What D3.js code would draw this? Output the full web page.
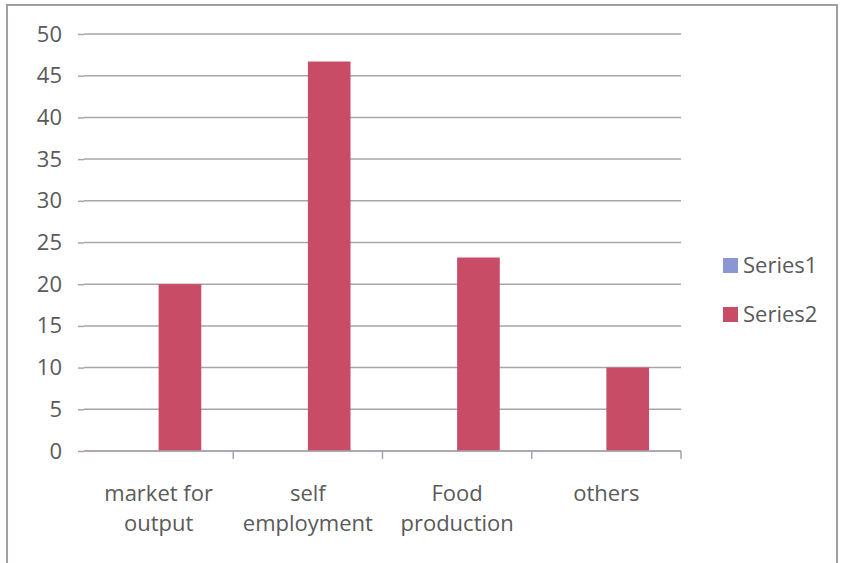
<!DOCTYPE html>
<html>
<head>
<meta charset="utf-8">
<script src="https://cdn.jsdelivr.net/npm/d3@7"></script>
<style>
  html, body { margin: 0; padding: 0; background: #ffffff; }
  svg { display: block; }
  text { font-family: "Open Sans", Lato, sans-serif; fill: #5a5a5a; }
</style>
</head>
<body>
<svg id="chart" width="843" height="563"></svg>
<script>
// Categories (two-line labels) and the two series
const categories = ["market for output", "self employment", "Food production", "others"];
const categoryLines = [["market for", "output"], ["self", "employment"], ["Food", "production"], ["others"]];
const seriesNames = ["Series1", "Series2"];
const series1 = [0, 0, 0, 0];
const series2 = [20, 46.7, 23.2, 10];
const yTicks = [0, 5, 10, 15, 20, 25, 30, 35, 40, 45, 50];

const colors = { Series1: "#8a97d4", Series2: "#c84c66" };
const gridColor = "#aaa2ac";
const fontSize = "22px";

const svg = d3.select("#chart");

// Outer frame (bottom edge runs past the canvas)
svg.append("rect")
  .attr("x", 7).attr("y", 5)
  .attr("width", 830).attr("height", 570)
  .attr("fill", "none")
  .attr("stroke", "#a39ca5")
  .attr("stroke-width", 2);

const plot = { left: 84, right: 681, top: 34, bottom: 451 };

const x = d3.scaleBand()
  .domain(categories)
  .range([plot.left, plot.right])
  .paddingInner(0).paddingOuter(0);

const xInner = d3.scaleBand()
  .domain(seriesNames)
  .range([0, x.bandwidth()])
  .paddingInner(0)
  .paddingOuter(0.75);

const y = d3.scaleLinear()
  .domain([0, 50])
  .range([plot.bottom, plot.top]);

// Horizontal gridlines
svg.append("g")
  .selectAll("line")
  .data(yTicks)
  .join("line")
  .attr("x1", plot.left).attr("x2", plot.right)
  .attr("y1", d => y(d)).attr("y2", d => y(d))
  .attr("stroke", gridColor)
  .attr("stroke-width", 1.5);

// Y axis: tick marks and labels, no axis line
const yAxis = svg.append("g")
  .attr("transform", `translate(${plot.left},0)`)
  .call(d3.axisLeft(y).tickValues(yTicks).tickSize(6).tickPadding(16).tickFormat(d3.format("d")));
yAxis.select(".domain").remove();
yAxis.selectAll(".tick line").attr("stroke", gridColor).attr("stroke-width", 1.5);
yAxis.selectAll(".tick text")
  .style("font-size", fontSize)
  .style("font-family", "\"Open Sans\", Lato, sans-serif")
  .attr("fill", "#5a5a5a");

// Bars
const rows = categories.map((c, i) => ({ category: c, Series1: series1[i], Series2: series2[i] }));
svg.append("g")
  .selectAll("g")
  .data(rows)
  .join("g")
  .attr("transform", d => `translate(${x(d.category)},0)`)
  .selectAll("rect")
  .data(d => seriesNames.map(s => ({ key: s, value: d[s] })))
  .join("rect")
  .attr("x", d => xInner(d.key))
  .attr("width", xInner.bandwidth())
  .attr("y", d => y(d.value))
  .attr("height", d => y(0) - y(d.value))
  .attr("fill", d => colors[d.key]);

// Category axis line and tick marks at band boundaries
svg.append("line")
  .attr("x1", plot.left).attr("x2", plot.right)
  .attr("y1", y(0)).attr("y2", y(0))
  .attr("stroke", gridColor).attr("stroke-width", 1.5);
svg.append("g")
  .selectAll("line")
  .data(categories)
  .join("line")
  .attr("x1", d => x(d) + x.bandwidth()).attr("x2", d => x(d) + x.bandwidth())
  .attr("y1", y(0)).attr("y2", y(0) + 8)
  .attr("stroke", gridColor).attr("stroke-width", 1.5);

// Category labels
const labels = svg.append("g")
  .selectAll("text")
  .data(categories)
  .join("text")
  .attr("x", d => x(d) + x.bandwidth() / 2)
  .attr("y", 501)
  .attr("text-anchor", "middle")
  .style("font-size", fontSize);
labels.selectAll("tspan")
  .data((d, i) => categoryLines[i])
  .join("tspan")
  .attr("x", function () { return d3.select(this.parentNode).attr("x"); })
  .attr("dy", (d, i) => i === 0 ? 0 : 30)
  .text(d => d);

// Legend
const legend = svg.append("g")
  .selectAll("g")
  .data(seriesNames)
  .join("g")
  .attr("transform", (d, i) => `translate(723,${258 + i * 49})`);
legend.append("rect")
  .attr("width", 15).attr("height", 15)
  .attr("fill", d => colors[d]);
legend.append("text")
  .attr("x", 20).attr("y", 15)
  .style("font-size", fontSize)
  .text(d => d);
</script>
</body>
</html>
